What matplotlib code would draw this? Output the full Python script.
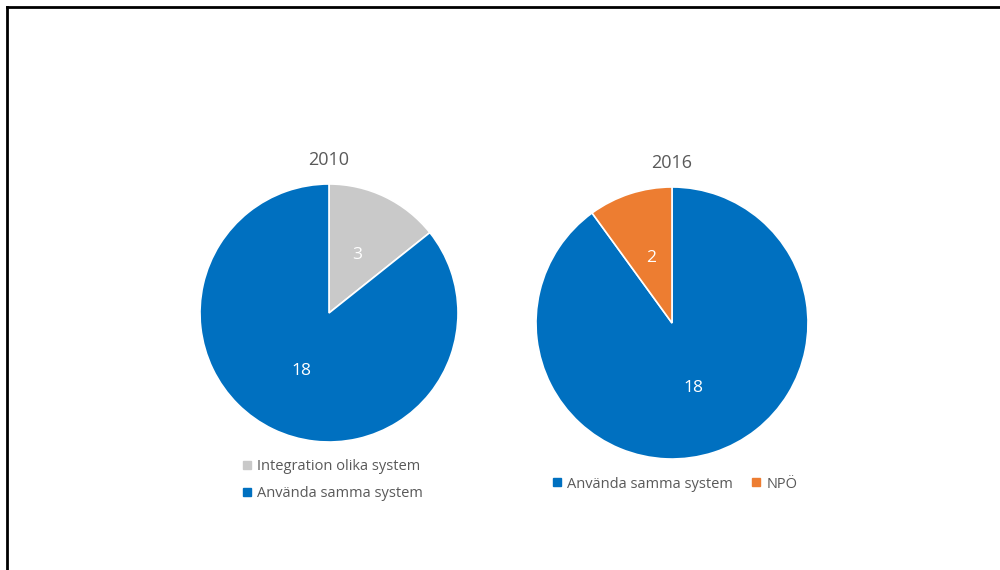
import matplotlib.pyplot as plt
from matplotlib.lines import Line2D

plt.rcParams['font.family'] = ['Open Sans', 'DejaVu Sans']

# survey answers, two years
years = ['2010', '2016']
labels_2010 = ['Integration olika system', 'Använda samma system']
values_2010 = [3, 18]
labels_2016 = ['Använda samma system', 'NPÖ']
values_2016 = [18, 2]

BLUE = '#0070C0'
GREY = '#C9C9C9'
ORANGE = '#ED7D31'
TEXT = '#595959'

colors_2010 = [GREY, BLUE]
colors_2016 = [BLUE, ORANGE]

W, H = 1000, 570
fig = plt.figure(figsize=(W / 100, H / 100), dpi=100)
ax = fig.add_axes([0, 0, 1, 1])


def value_label(vals):
    total = sum(vals)
    return lambda p: f"{round(p * total / 100)}"


wedge_kw = dict(edgecolor='white', linewidth=1.2)
text_kw = dict(color='white', fontsize=12.5)

ax.pie(values_2010, colors=colors_2010, startangle=90, counterclock=False,
       center=(329, H - 313), radius=129, autopct=value_label(values_2010),
       pctdistance=0.5, wedgeprops=wedge_kw, textprops=text_kw, frame=True)
ax.pie(values_2016, colors=colors_2016, startangle=90, counterclock=False,
       center=(672, H - 323), radius=136, autopct=value_label(values_2016),
       pctdistance=0.5, wedgeprops=wedge_kw, textprops=text_kw, frame=True)

ax.set_xlim(0, W)
ax.set_ylim(0, H)
ax.set_aspect('equal')
ax.axis('off')

ax.text(329, H - 160, years[0], ha='center', va='center', fontsize=13, color=TEXT)
ax.text(672, H - 163, years[1], ha='center', va='center', fontsize=13, color=TEXT)


def handles(cols):
    return [Line2D([], [], marker='s', linestyle='none', markersize=6,
                   markerfacecolor=c, markeredgecolor=c) for c in cols]


leg1 = ax.legend(handles(colors_2010), labels_2010, loc='center',
                 bbox_to_anchor=(333 / W, 1 - 480 / H), bbox_transform=fig.transFigure,
                 frameon=False, fontsize=10.5, labelcolor=TEXT, handlelength=0.6,
                 handletextpad=0.4, labelspacing=0.85)
ax.add_artist(leg1)
ax.legend(handles(colors_2016), labels_2016, loc='center', ncol=2,
          bbox_to_anchor=(675 / W, 1 - 484 / H), bbox_transform=fig.transFigure,
          frameon=False, fontsize=10.5, labelcolor=TEXT, handlelength=0.6,
          handletextpad=0.4, columnspacing=1.3)

# outer frame: left and top edges only
fig.add_artist(Line2D([7 / W, 7 / W], [0, 1 - 7 / H], transform=fig.transFigure,
                      color='black', linewidth=2))
fig.add_artist(Line2D([7 / W, 1], [1 - 7 / H, 1 - 7 / H], transform=fig.transFigure,
                      color='black', linewidth=2))

fig.savefig('out.png', dpi=100)
